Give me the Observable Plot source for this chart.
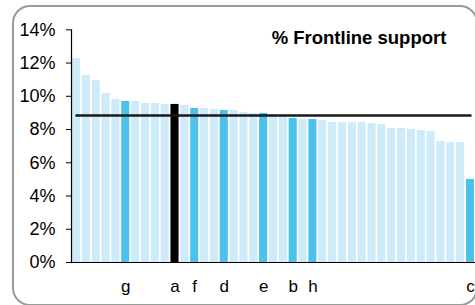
<!DOCTYPE html>
<html><head><meta charset="utf-8">
<script src="https://cdn.jsdelivr.net/npm/d3@7"></script>
<script src="https://cdn.jsdelivr.net/npm/@observablehq/plot@0.6"></script>
<style>
body{margin:0;background:#fff;}
#wrap{position:relative;width:475px;height:305px;overflow:hidden;font-family:"Liberation Sans",Arial,sans-serif;}
#border{position:absolute;left:12px;top:5px;width:466px;height:301px;box-sizing:border-box;border:2px solid #9a9a9a;border-radius:18px;}
#chart{position:absolute;left:0;top:0;}
#title{position:absolute;left:259px;width:200px;top:29px;text-align:center;font-size:18.5px;line-height:1;font-weight:bold;color:#000;white-space:nowrap;}
</style>
</head><body>
<div id="wrap"><div id="border"></div><div id="chart"></div><div id="title">% Frontline support</div></div>
<script>
const values = [12.27, 11.25, 10.95, 10.17, 9.81, 9.69, 9.69, 9.57, 9.57, 9.51,
  9.51, 9.45, 9.27, 9.27, 9.21, 9.15, 9.15, 9.03, 8.97, 8.97,
  8.9, 8.8, 8.66, 8.6, 8.6, 8.54, 8.42, 8.42, 8.42, 8.42,
  8.36, 8.30, 8.06, 8.06, 8.0, 7.94, 7.88, 7.28, 7.22, 7.22, 5.0];
const labels = ["", "", "", "", "", "g", "", "", "", "",
  "a", "", "f", "", "", "d", "", "", "", "e",
  "", "", "b", "", "h", "", "", "", "", "",
  "", "", "", "", "", "", "", "", "", "", "c"];
const kinds = ["o","o","o","o","o","h","o","o","o","o",
  "s","o","h","o","o","h","o","o","o","h",
  "o","o","h","o","h","o","o","o","o","o",
  "o","o","o","o","o","o","o","o","o","o","h"];
const average = 8.84;
const yTicks = [0, 2, 4, 6, 8, 10, 12, 14];
const palette = {o: "#cdebf8", h: "#4bc1eb", s: "#000000"};

const ids = values.map((_, i) => i);
const chart = Plot.plot({
  width: 475, height: 305,
  marginLeft: 71, marginRight: 0, marginTop: 29.3, marginBottom: 43,
  style: {background: "transparent", fontFamily: "'Liberation Sans', Arial, sans-serif", fontSize: "18px", color: "#000"},
  x: {type: "band", domain: ids, paddingInner: 0.18, paddingOuter: 0.1, axis: null},
  y: {domain: [0, 14], ticks: yTicks, tickFormat: d => d + "%", tickSize: 5, tickPadding: 11, label: null},
  marks: [
    Plot.barY(ids, {x: i => i, y: i => values[i], fill: i => palette[kinds[i]]}),
    Plot.lineY(ids, {x: i => i, y: () => average, stroke: "#1a1a1a", strokeWidth: 2.5}),
    Plot.ruleY([0], {stroke: "#000", strokeWidth: 1.2}),
    Plot.frame({anchor: "left", stroke: "#000", strokeWidth: 1.2}),
    Plot.text(ids, {x: i => i, text: i => labels[i], frameAnchor: "bottom", dy: 29, fontSize: 17, fill: "#000"})
  ]
});
document.getElementById("chart").appendChild(chart);
</script>
</body></html>
